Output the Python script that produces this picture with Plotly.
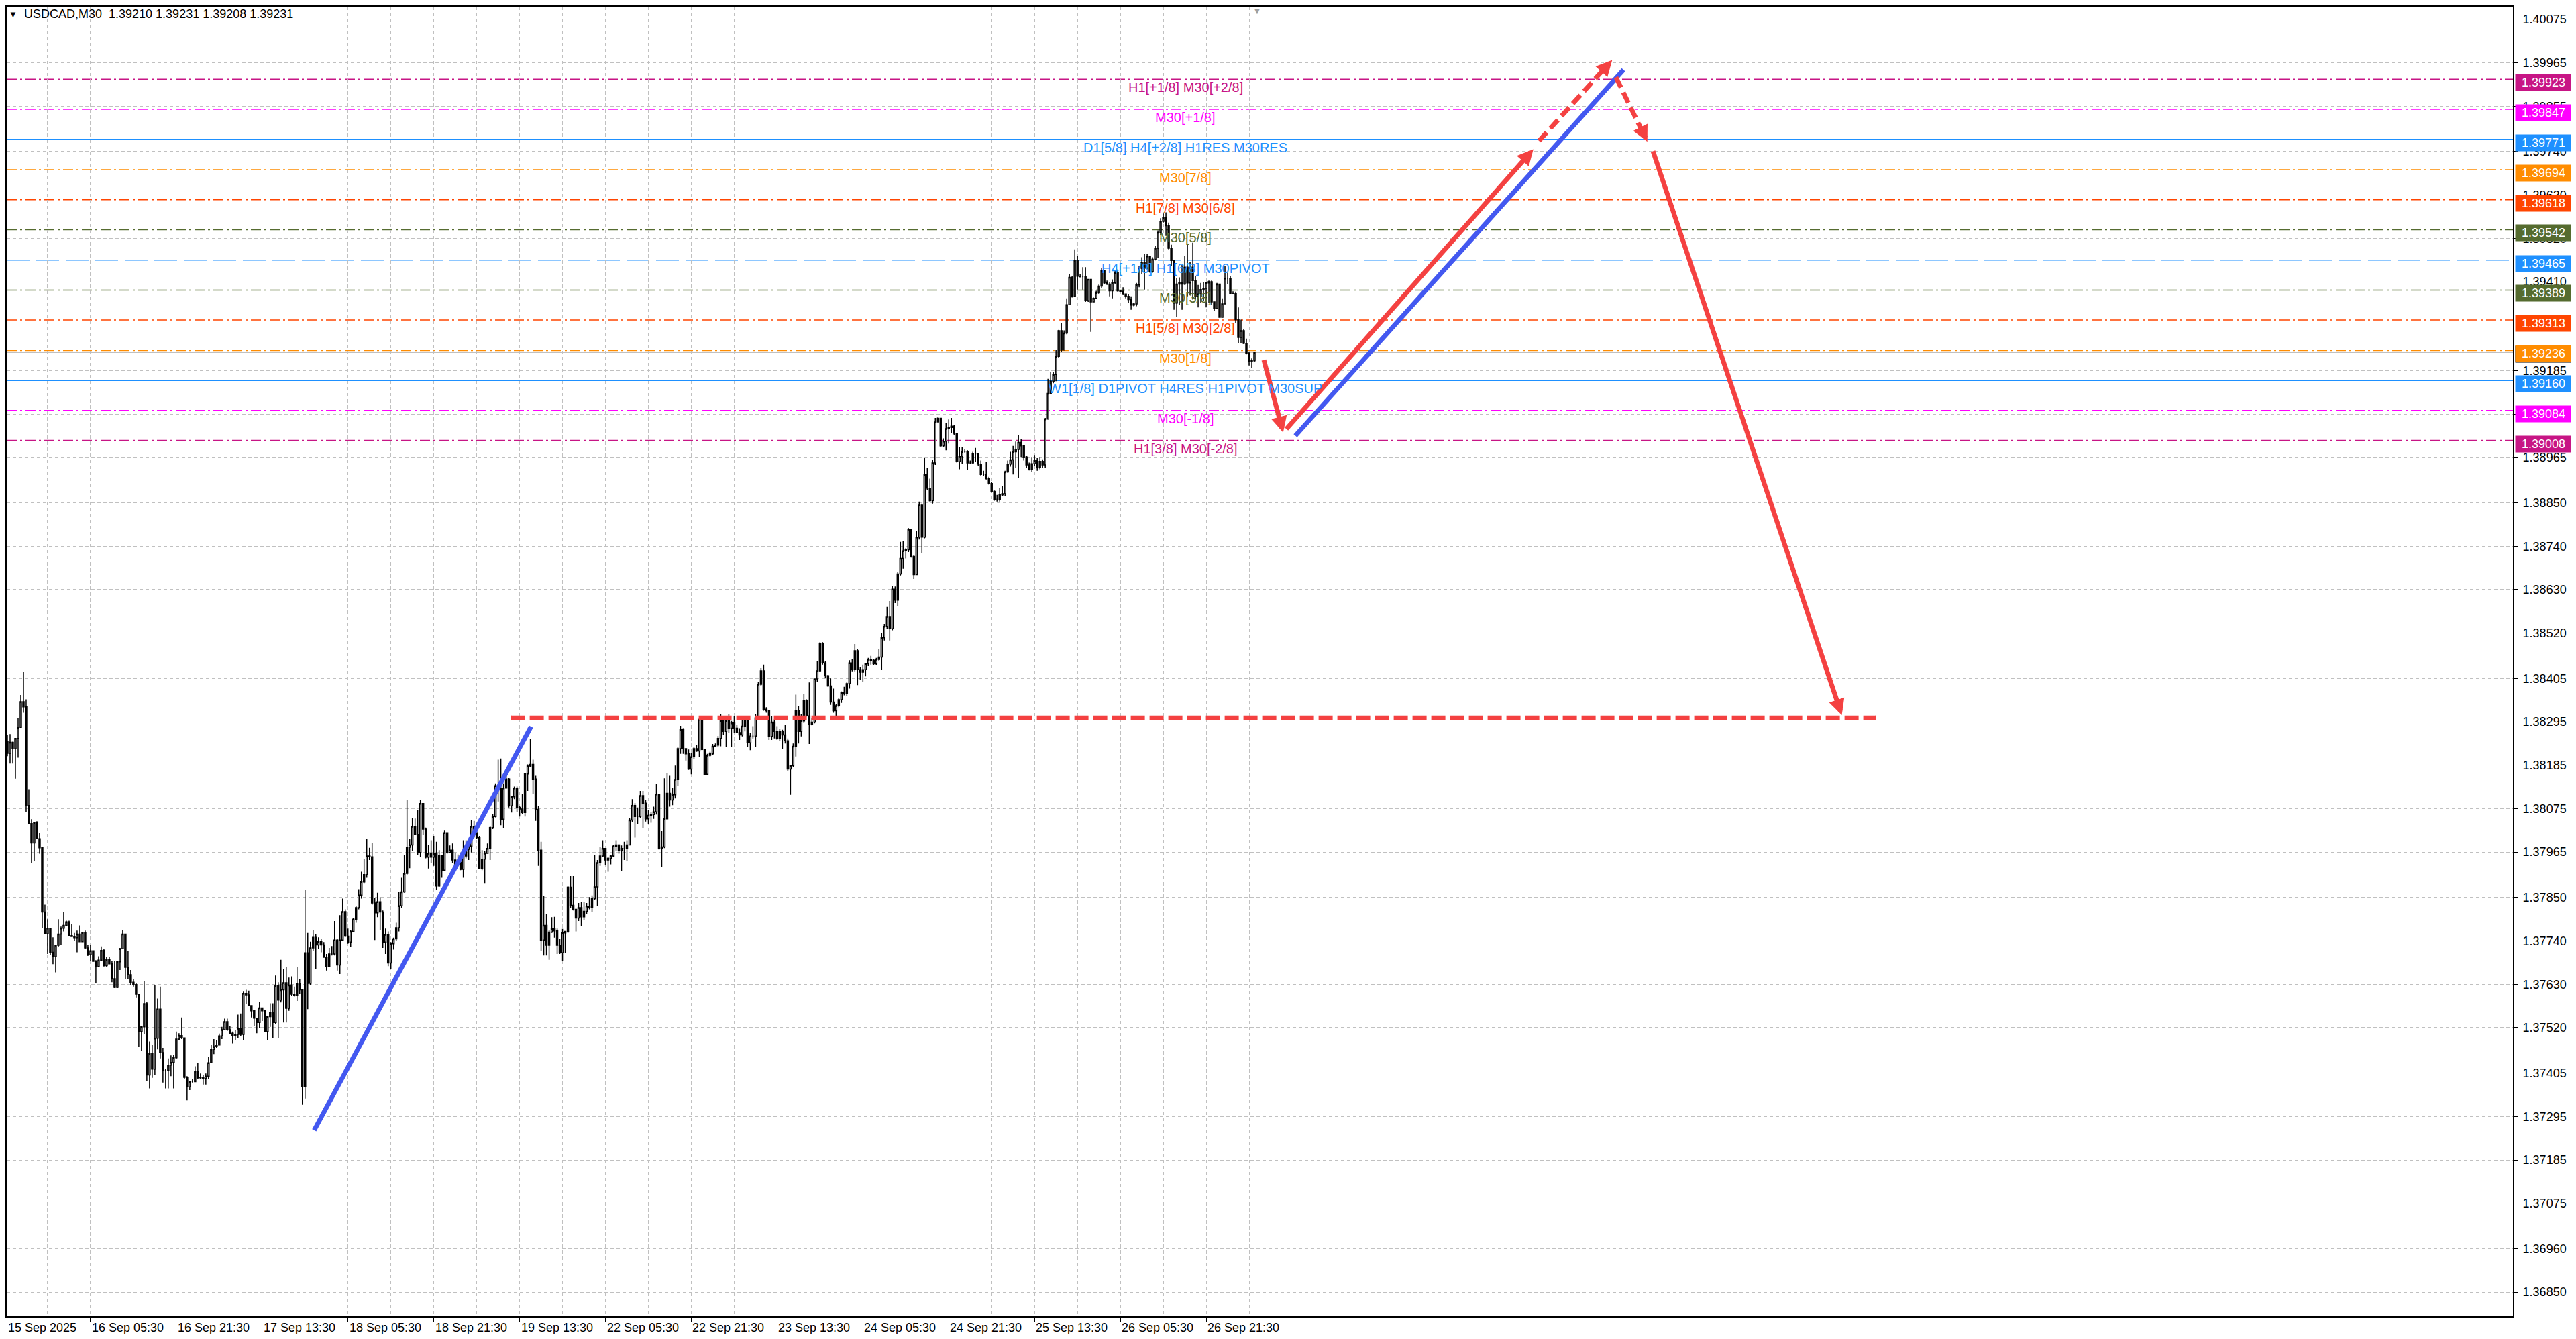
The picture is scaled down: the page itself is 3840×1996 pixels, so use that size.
import plotly.graph_objects as go

# USDCAD M30 bars, index 0 = 15 Sep 2025 13:30, one bar per 30 minutes.
# Prices are kept in points: 38245 -> 1.38245
first_open = 38234
closes = [
    38245, 38215, 38243, 38227, 38253, 38281, 38346, 38333, 38083, 38037,
    37988, 38039, 37999, 37976, 37813, 37758, 37772, 37711, 37700, 37729,
    37757, 37772, 37779, 37788, 37753, 37751, 37748, 37757, 37738, 37760,
    37722, 37705, 37715, 37688, 37675, 37691, 37716, 37677, 37692, 37682,
    37644, 37622, 37687, 37720, 37757, 37673, 37654, 37635, 37629, 37605,
    37510, 37522, 37581, 37400, 37455, 37415, 37493, 37567, 37457, 37412,
    37412, 37425, 37432, 37444, 37491, 37500, 37494, 37394, 37370, 37383,
    37383, 37408, 37393, 37394, 37391, 37397, 37431, 37465, 37472, 37476,
    37499, 37515, 37535, 37515, 37506, 37499, 37503, 37518, 37503, 37607,
    37603, 37576, 37563, 37544, 37533, 37570, 37563, 37510, 37548, 37559,
    37533, 37626, 37590, 37616, 37634, 37569, 37628, 37605, 37601, 37632,
    37616, 37370, 37710, 37632, 37722, 37749, 37730, 37738, 37730, 37699,
    37674, 37707, 37707, 37742, 37679, 37742, 37814, 37752, 37737, 37764,
    37795, 37824, 37856, 37889, 37908, 37955, 37953, 37836, 37811, 37839,
    37813, 37737, 37756, 37684, 37733, 37745, 37773, 37829, 37864, 37911,
    37977, 37983, 38030, 38010, 37964, 38088, 38023, 37952, 37962, 37952,
    37961, 37879, 37957, 37919, 38014, 37964, 37970, 37945, 37934, 37939,
    37921, 37955, 37972, 37980, 38030, 38014, 38002, 37924, 37947, 37962,
    37974, 38027, 38055, 38133, 38127, 38048, 38127, 38150, 38082, 38105,
    38127, 38078, 38074, 38065, 38163, 38183, 38187, 38150, 38073, 37970,
    37742, 37779, 37729, 37762, 37770, 37765, 37729, 37710, 37760, 37764,
    37876, 37830, 37820, 37798, 37824, 37801, 37815, 37828, 37824, 37847,
    37877, 37938, 37955, 37974, 37945, 37949, 37955, 37980, 37983, 37970,
    37974, 37974, 37983, 38046, 38083, 38055, 38055, 38108, 38089, 38049,
    38058, 38060, 38067, 38112, 37975, 37978, 38049, 38114, 38097, 38110,
    38149, 38227, 38275, 38227, 38214, 38175, 38206, 38227, 38221, 38301,
    38225, 38162, 38210, 38214, 38233, 38236, 38253, 38297, 38271, 38297,
    38279, 38292, 38279, 38268, 38262, 38284, 38297, 38242, 38259, 38259,
    38305, 38390, 38424, 38327, 38323, 38258, 38294, 38271, 38253, 38271,
    38262, 38247, 38175, 38184, 38233, 38323, 38271, 38297, 38349, 38310,
    38288, 38294, 38404, 38424, 38494, 38444, 38412, 38386, 38345, 38323,
    38336, 38351, 38369, 38366, 38392, 38444, 38427, 38475, 38427, 38421,
    38427, 38442, 38453, 38451, 38442, 38453, 38459, 38508, 38537, 38562,
    38531, 38631, 38603, 38670, 38709, 38728, 38731, 38783, 38714, 38668,
    38763, 38844, 38763, 38922, 38887, 38855, 38951, 39055, 39064, 38994,
    39006, 39038, 39041, 39044, 39026, 38954, 38968, 38979, 38979, 38951,
    38951, 38974, 38974, 38948, 38922, 38922, 38911, 38899, 38879, 38859,
    38859, 38870, 38873, 38928, 38948, 38959, 38979, 38985, 39003, 38994,
    38966, 38946, 38935, 38949, 38957, 38940, 38955, 38946, 39062, 39127,
    39158, 39175, 39221, 39286, 39237, 39280, 39352, 39421, 39373, 39464,
    39424, 39423, 39423, 39362, 39416, 39359, 39368, 39382, 39399, 39438,
    39407, 39404, 39387, 39408, 39433, 39387, 39386, 39379, 39373, 39365,
    39351, 39354, 39402, 39444, 39458, 39444, 39475, 39436, 39467, 39495,
    39535, 39563, 39573, 39552, 39495, 39464, 39356, 39404, 39407, 39404,
    39447, 39407, 39447, 39413, 39373, 39379, 39390, 39393, 39407, 39410,
    39359, 39342, 39404, 39320, 39354, 39419, 39419, 39380, 39380, 39314,
    39269, 39286, 39254, 39229, 39209, 39210, 39231,
]
highs = [
    38257, 38261, 38264, 38245, 38253, 38304, 38363, 38422, 38352, 38124,
    38048, 38039, 38043, 38014, 37976, 37832, 37795, 37772, 37749, 37729,
    37795, 37776, 37813, 37791, 37791, 37783, 37760, 37766, 37779, 37760,
    37766, 37730, 37730, 37715, 37691, 37701, 37726, 37720, 37700, 37700,
    37688, 37688, 37690, 37722, 37768, 37757, 37715, 37666, 37643, 37632,
    37605, 37525, 37639, 37586, 37485, 37476, 37628, 37594, 37624, 37469,
    37415, 37442, 37450, 37452, 37510, 37506, 37546, 37488, 37397, 37385,
    37389, 37422, 37431, 37404, 37400, 37404, 37446, 37476, 37491, 37488,
    37505, 37522, 37543, 37543, 37525, 37510, 37514, 37553, 37556, 37613,
    37616, 37614, 37576, 37563, 37544, 37586, 37571, 37563, 37550, 37582,
    37582, 37652, 37635, 37692, 37669, 37673, 37647, 37650, 37624, 37673,
    37643, 37613, 37870, 37760, 37738, 37768, 37757, 37749, 37745, 37737,
    37707, 37722, 37727, 37790, 37745, 37805, 37847, 37820, 37771, 37767,
    37798, 37828, 37871, 37915, 37947, 37998, 37976, 37989, 37848, 37862,
    37851, 37817, 37771, 37764, 37737, 37748, 37786, 37864, 37900, 37957,
    38097, 37999, 38052, 38050, 38071, 38096, 38088, 38027, 37983, 37995,
    38006, 37991, 37970, 37957, 38021, 37983, 37982, 37987, 37964, 37959,
    37949, 37995, 37995, 37991, 38046, 38044, 38025, 38006, 37970, 37968,
    37987, 38030, 38061, 38139, 38199, 38202, 38139, 38165, 38154, 38108,
    38131, 38131, 38082, 38112, 38165, 38187, 38252, 38199, 38158, 38082,
    37991, 37853, 37808, 37767, 37800, 37801, 37771, 37745, 37770, 37765,
    37879, 37904, 37904, 37805, 37836, 37839, 37839, 37836, 37851, 37855,
    37957, 37945, 37977, 37995, 37974, 37953, 37957, 37983, 37995, 37985,
    37982, 37991, 37995, 38052, 38099, 38089, 38078, 38120, 38120, 38097,
    38071, 38067, 38080, 38138, 38112, 38019, 38152, 38166, 38158, 38127,
    38184, 38232, 38285, 38279, 38227, 38225, 38216, 38232, 38236, 38303,
    38303, 38188, 38214, 38219, 38239, 38240, 38259, 38314, 38310, 38310,
    38314, 38297, 38310, 38288, 38279, 38301, 38310, 38310, 38266, 38284,
    38314, 38397, 38431, 38440, 38332, 38320, 38310, 38301, 38284, 38277,
    38275, 38288, 38253, 38186, 38240, 38364, 38336, 38314, 38366, 38352,
    38395, 38305, 38405, 38449, 38497, 38497, 38449, 38414, 38405, 38379,
    38340, 38355, 38372, 38384, 38395, 38451, 38453, 38492, 38479, 38433,
    38440, 38444, 38457, 38462, 38453, 38457, 38479, 38520, 38543, 38586,
    38601, 38640, 38638, 38675, 38751, 38754, 38735, 38786, 38783, 38718,
    38779, 38853, 38848, 38963, 38939, 38911, 38959, 39065, 39067, 39065,
    39013, 39052, 39061, 39065, 39048, 39018, 38992, 38992, 38986, 38983,
    38957, 38979, 38989, 38963, 38957, 38931, 38954, 38916, 38902, 38881,
    38870, 38887, 38892, 38931, 38957, 38979, 38994, 39005, 39022, 39011,
    38997, 38969, 38952, 38966, 38971, 38963, 38966, 38960, 39065, 39164,
    39181, 39181, 39237, 39288, 39305, 39287, 39368, 39430, 39424, 39492,
    39475, 39430, 39447, 39447, 39416, 39368, 39370, 39387, 39403, 39444,
    39438, 39413, 39410, 39416, 39438, 39441, 39389, 39396, 39379, 39379,
    39373, 39356, 39407, 39450, 39472, 39481, 39481, 39475, 39472, 39501,
    39540, 39571, 39583, 39586, 39560, 39504, 39464, 39419, 39421, 39453,
    39475, 39506, 39461, 39509, 39424, 39402, 39407, 39410, 39410, 39413,
    39413, 39359, 39407, 39359, 39368, 39450, 39433, 39424, 39386, 39385,
    39345, 39314, 39291, 39266, 39232, 39216, 39231,
]
lows = [
    38219, 38208, 38189, 38189, 38151, 38204, 38280, 38318, 38067, 38037,
    37937, 37942, 37999, 37961, 37772, 37757, 37707, 37704, 37681, 37660,
    37725, 37730, 37764, 37779, 37751, 37751, 37740, 37711, 37738, 37738,
    37719, 37702, 37688, 37687, 37632, 37673, 37688, 37675, 37673, 37681,
    37635, 37620, 37620, 37666, 37719, 37643, 37643, 37628, 37624, 37597,
    37472, 37461, 37503, 37385, 37366, 37393, 37400, 37465, 37442, 37381,
    37366, 37366, 37397, 37366, 37440, 37488, 37491, 37389, 37336, 37362,
    37381, 37385, 37389, 37389, 37376, 37376, 37389, 37431, 37453, 37469,
    37475, 37491, 37514, 37512, 37503, 37480, 37488, 37493, 37499, 37488,
    37581, 37575, 37546, 37525, 37506, 37518, 37537, 37508, 37488, 37522,
    37493, 37529, 37493, 37584, 37533, 37533, 37563, 37601, 37599, 37588,
    37605, 37325, 37340, 37567, 37628, 37715, 37669, 37719, 37711, 37697,
    37665, 37680, 37703, 37703, 37665, 37656, 37741, 37750, 37733, 37724,
    37762, 37786, 37820, 37847, 37885, 37900, 37945, 37832, 37742, 37800,
    37767, 37722, 37707, 37676, 37669, 37718, 37741, 37764, 37824, 37862,
    37908, 37924, 37968, 38008, 37957, 37953, 38008, 37949, 37923, 37938,
    37930, 37870, 37877, 37900, 37917, 37961, 37964, 37938, 37930, 37930,
    37919, 37900, 37949, 37945, 37964, 38002, 37999, 37923, 37919, 37885,
    37961, 37945, 38023, 38053, 38093, 38033, 38025, 38127, 38078, 38065,
    38099, 38067, 38055, 38061, 38055, 38120, 38180, 38112, 38044, 37930,
    37714, 37703, 37703, 37692, 37760, 37748, 37707, 37707, 37688, 37710,
    37760, 37824, 37817, 37764, 37790, 37777, 37792, 37808, 37820, 37813,
    37843, 37828, 37930, 37952, 37932, 37915, 37934, 37953, 37968, 37961,
    37917, 37945, 37942, 37982, 38040, 38002, 38036, 38052, 38025, 38042,
    38036, 38039, 38049, 38060, 37971, 37928, 37975, 38067, 38080, 38084,
    38101, 38132, 38214, 38214, 38197, 38173, 38162, 38201, 38219, 38206,
    38223, 38160, 38171, 38207, 38210, 38232, 38232, 38233, 38262, 38232,
    38268, 38232, 38266, 38266, 38249, 38258, 38271, 38232, 38223, 38253,
    38232, 38305, 38386, 38323, 38318, 38249, 38249, 38253, 38249, 38247,
    38227, 38240, 38171, 38110, 38180, 38207, 38240, 38258, 38292, 38308,
    38239, 38286, 38291, 38397, 38421, 38440, 38405, 38384, 38338, 38318,
    38310, 38332, 38343, 38362, 38360, 38379, 38423, 38423, 38388, 38401,
    38397, 38410, 38436, 38440, 38438, 38438, 38449, 38427, 38501, 38531,
    38501, 38527, 38596, 38588, 38666, 38683, 38709, 38725, 38711, 38657,
    38668, 38757, 38722, 38760, 38883, 38853, 38848, 38946, 39055, 38992,
    38992, 38983, 39000, 39026, 39022, 38952, 38935, 38948, 38977, 38933,
    38948, 38948, 38954, 38944, 38918, 38919, 38909, 38896, 38876, 38855,
    38853, 38853, 38866, 38867, 38926, 38942, 38922, 38939, 38913, 38966,
    38957, 38938, 38932, 38929, 38943, 38931, 38935, 38938, 38938, 39062,
    39127, 39153, 39158, 39218, 39233, 39237, 39277, 39351, 39370, 39373,
    39390, 39421, 39390, 39359, 39359, 39283, 39359, 39368, 39379, 39393,
    39404, 39402, 39373, 39368, 39404, 39385, 39384, 39376, 39368, 39356,
    39339, 39348, 39348, 39396, 39430, 39390, 39441, 39433, 39433, 39464,
    39470, 39529, 39560, 39526, 39492, 39450, 39339, 39320, 39351, 39339,
    39402, 39373, 39376, 39365, 39365, 39345, 39356, 39362, 39345, 39356,
    39351, 39337, 39348, 39320, 39331, 39354, 39404, 39379, 39379, 39305,
    39254, 39254, 39252, 39226, 39198, 39192, 39208,
]
bid_price = 1.39231

# time axis (bar index of each label) and price axis labels
time_ticks = [0, 32, 64, 96, 128, 160, 192, 224, 256, 288, 320, 352, 384, 416, 448]
time_labels = ["15 Sep 2025", "16 Sep 05:30", "16 Sep 21:30", "17 Sep 13:30", "18 Sep 05:30",
               "18 Sep 21:30", "19 Sep 13:30", "22 Sep 05:30", "22 Sep 21:30", "23 Sep 13:30",
               "24 Sep 05:30", "24 Sep 21:30", "25 Sep 13:30", "26 Sep 05:30", "26 Sep 21:30"]
price_ticks = [1.40075, 1.39965, 1.39855, 1.39740, 1.39630, 1.39520, 1.39410, 1.39295,
               1.39185, 1.39075, 1.38965, 1.38850, 1.38740, 1.38630, 1.38520, 1.38405,
               1.38295, 1.38185, 1.38075, 1.37965, 1.37850, 1.37740, 1.37630, 1.37520,
               1.37405, 1.37295, 1.37185, 1.37075, 1.36960, 1.36850]

# Murrey math levels
level_prices = [1.39923, 1.39847, 1.39771, 1.39694, 1.39618, 1.39542, 1.39465,
                1.39389, 1.39313, 1.39236, 1.39160, 1.39084, 1.39008]
level_names = ["H1[+1/8] M30[+2/8]", "M30[+1/8]", "D1[5/8] H4[+2/8] H1RES M30RES",
               "M30[7/8]", "H1[7/8] M30[6/8]", "M30[5/8]", "H4[+1/8] H1[6/8] M30PIVOT",
               "M30[3/8]", "H1[5/8] M30[2/8]", "M30[1/8]",
               "W1[1/8] D1PIVOT H4RES H1PIVOT M30SUP", "M30[-1/8]", "H1[3/8] M30[-2/8]"]
level_colors = ["#C71585", "#FF00FF", "#1E90FF", "#FF8C00", "#FF4500", "#556B2F", "#1E90FF",
                "#556B2F", "#FF4500", "#FF8C00", "#1E90FF", "#FF00FF", "#C71585"]
level_styles = ["dashdot", "dashdot", "solid", "dashdot", "dashdot", "dashdot", "dash",
                "dashdot", "dashdot", "dashdot", "solid", "dashdot", "dashdot"]
label_bar = 440.25

# hand drawn objects: (bar, price) start and end
blue_lines = [((115.4, 1.37260), (196.25, 1.38283)),
              ((481.25, 1.39020), (603.6, 1.39947))]
red_arrows = [((469.5, 1.39212), (476.7, 1.39028)),
              ((477.9, 1.39037), (570.0, 1.39746)),
              ((614.6, 1.39741), (685.0, 1.38312))]
red_dashed_arrows = [((572.1, 1.39767), (599.4, 1.39972)),
                     ((600.8, 1.39928), (612.5, 1.39765))]
target_line = ((188.75, 1.38305), (697.75, 1.38305))

RED = "#F44141"
BLUE = "#4358F0"
GRID = "#C0C0C0"
FONT = "Liberation Sans, Arial, sans-serif"

# the page body adds 8px around the figure, so the figure is 16px smaller than the window
W, H = 3824, 1980
ML, MR, MT, MB = 0, 86, 0, 26
x_range = [0.75, 935.25]
y_range = [1.36789, 1.40107]
ppb = (W - ML - MR) / (x_range[1] - x_range[0])
ppp = (H - MT - MB) / (y_range[1] - y_range[0])

c = [1 + v / 1e5 for v in closes]
o = [1 + first_open / 1e5] + c[:-1]
h = [max(1 + v / 1e5, a, b) for v, a, b in zip(highs, o, c)]
l = [min(1 + v / 1e5, a, b) for v, a, b in zip(lows, o, c)]
bars = list(range(len(c)))

fig = go.Figure()

fig.add_trace(go.Candlestick(
    x=bars, open=o, high=h, low=l, close=c,
    increasing=dict(line=dict(color="black", width=1.5), fillcolor="white"),
    decreasing=dict(line=dict(color="black", width=1.5), fillcolor="black"),
    whiskerwidth=0, showlegend=False, hoverinfo="skip",
))

dash_map = {"solid": "solid", "dash": "34px,10px", "dashdot": "15px,5px,3px,5px"}
for price, color, style in zip(level_prices, level_colors, level_styles):
    fig.add_shape(type="line", xref="paper", x0=0, x1=1, yref="y", y0=price, y1=price,
                  line=dict(color=color, width=1.5, dash=dash_map[style]), layer="below")
fig.add_shape(type="line", xref="paper", x0=0, x1=1, yref="y", y0=bid_price, y1=bid_price,
              line=dict(color=GRID, width=1.5), layer="below")


def unit(p0, p1):
    dx = (p1[0] - p0[0]) * ppb
    dy = -(p1[1] - p0[1]) * ppp
    n = (dx * dx + dy * dy) ** 0.5
    return dx / n, dy / n


def segment(p0, p1, color, dash="solid", back=0):
    ux, uy = unit(p0, p1)
    x1 = p1[0] - ux * back / ppb
    y1 = p1[1] + uy * back / ppp
    fig.add_trace(go.Scatter(x=[p0[0], x1], y=[p0[1], y1], mode="lines",
                             line=dict(color=color, width=7, dash=dash),
                             showlegend=False, hoverinfo="skip"))


def head(p0, p1, color):
    ux, uy = unit(p0, p1)
    fig.add_annotation(x=p1[0], y=p1[1], ax=-ux * 16, ay=-uy * 16, text="",
                       showarrow=True, arrowhead=2, arrowsize=0.68, arrowwidth=7,
                       arrowcolor=color, standoff=0)


segment(target_line[0], target_line[1], RED, dash="21px,7px")
for p0, p1 in blue_lines:
    segment(p0, p1, BLUE)
for p0, p1 in red_arrows:
    segment(p0, p1, RED, back=12)
    head(p0, p1, RED)
for p0, p1 in red_dashed_arrows:
    segment(p0, p1, RED, dash="17px,8px", back=12)
    head(p0, p1, RED)

# level captions in the middle of the chart
for price, name, color in zip(level_prices, level_names, level_colors):
    fig.add_annotation(x=label_bar, y=price, text=name, showarrow=False, yshift=-12,
                       font=dict(family=FONT, size=20, color=color))

# price boxes on the right scale
fig.add_annotation(xref="paper", x=1.0007, xanchor="left", y=bid_price, yshift=-3,
                   text="1.39231", showarrow=False, width=81, height=22, bgcolor="black",
                   font=dict(family=FONT, size=18, color="white"))
for price, color in zip(level_prices, level_colors):
    fig.add_annotation(xref="paper", x=1.0007, xanchor="left", y=price, yshift=-5,
                       text=f"{price:.5f}", showarrow=False, width=81, height=22,
                       bgcolor=color, font=dict(family=FONT, size=18, color="white"))

# time labels, left aligned at their tick like the terminal does
# (the first one sits on the left border, which is just inside bar 0)
for t, txt in zip(time_ticks, time_labels):
    fig.add_annotation(x=max(t, x_range[0]), xanchor="left", yref="paper", y=0,
                       yanchor="middle", yshift=-17, text=txt, showarrow=False,
                       font=dict(family=FONT, size=18, color="black"))

fig.add_annotation(xref="paper", x=0.0003, xanchor="left", yref="paper", y=1, yanchor="middle",
                   yshift=-11, text="\u25bc", showarrow=False,
                   font=dict(family=FONT, size=13, color="black"))
fig.add_annotation(xref="paper", x=0.0064, xanchor="left", yref="paper", y=1, yanchor="middle",
                   yshift=-11, text="USDCAD,M30\u00a0\u00a01.39210 1.39231 1.39208 1.39231",
                   showarrow=False, font=dict(family=FONT, size=18, color="black"))
fig.add_annotation(x=len(c), yref="paper", y=1, yanchor="top", yshift=4, text="\u25bc",
                   showarrow=False, font=dict(family=FONT, size=14, color="#A0A0A0"))

fig.update_layout(
    width=W, height=H, autosize=False,
    margin=dict(l=ML, r=MR, t=MT, b=MB),
    paper_bgcolor="white", plot_bgcolor="white",
    showlegend=False,
    xaxis=dict(range=x_range, rangeslider=dict(visible=False), tickmode="array",
               tickvals=time_ticks, showticklabels=False, ticks="outside", ticklen=6,
               tickcolor="black", showgrid=True, gridcolor=GRID, griddash="5px,4px",
               gridwidth=1, showline=True, mirror=True, linecolor="black", linewidth=2,
               zeroline=False,
               minor=dict(tickvals=[t + 16 for t in time_ticks], showgrid=True,
                          gridcolor=GRID, griddash="5px,4px", ticklen=0)),
    yaxis=dict(range=y_range, side="right", tickmode="array", tickvals=price_ticks,
               ticktext=[f"{p:.5f}" for p in price_ticks], ticks="outside", ticklen=5,
               tickcolor="black", ticklabelstandoff=4,
               tickfont=dict(family=FONT, size=18, color="black"),
               showgrid=True, gridcolor=GRID, griddash="5px,4px", gridwidth=1,
               showline=True, mirror=True, linecolor="black", linewidth=2, zeroline=False),
)

fig.write_html("out.html")
